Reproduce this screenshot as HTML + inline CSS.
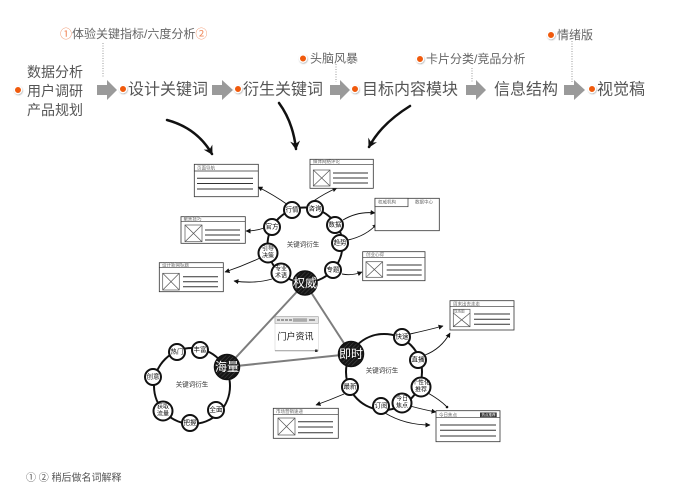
<!DOCTYPE html>
<html><head><meta charset="utf-8"><style>
html,body{margin:0;padding:0;background:#fff;}
svg{display:block;}
text{font-family:"Liberation Sans","Noto Sans CJK SC",sans-serif;}
</style></head><body>
<svg width="680" height="500" viewBox="0 0 680 500" xmlns="http://www.w3.org/2000/svg">
<defs>
<pattern id="hatch" width="3" height="3" patternUnits="userSpaceOnUse" patternTransform="rotate(45)">
<rect width="3" height="3" fill="#161616"/><line x1="0" y1="0" x2="0" y2="3" stroke="#4a4a4a" stroke-width="1"/>
</pattern>
<marker id="big" markerUnits="userSpaceOnUse" markerWidth="12" markerHeight="12" refX="8" refY="5" orient="auto">
<path d="M0,0 L9,5 L0,10 L3,5 z" fill="#111"/>
</marker>
<marker id="sm" markerUnits="userSpaceOnUse" markerWidth="6" markerHeight="6" refX="4.5" refY="2.5" orient="auto">
<path d="M0,0 L5,2.5 L0,5 z" fill="#111"/>
</marker>
<filter id="glow" x="-1" y="-1" width="3" height="3"><feDropShadow dx="0.5" dy="0.8" stdDeviation="0.8" flood-color="#000" flood-opacity="0.35"/></filter>
</defs>
<rect width="680" height="500" fill="#fff"/>

<!-- ===== TOP ROW ===== -->
<g fill="#555" dominant-baseline="central">
<text x="27" y="72" font-size="14">数据分析</text>
<text x="27" y="91" font-size="14">用户调研</text>
<text x="27" y="110" font-size="14">产品规划</text>
<text x="128" y="90" font-size="16">设计关键词</text>
<text x="243" y="90" font-size="16">衍生关键词</text>
<text x="362" y="90" font-size="16">目标内容模块</text>
<text x="494" y="90" font-size="16">信息结构</text>
<text x="597" y="90" font-size="16">视觉稿</text>
</g>
<g fill="#666" font-size="12" dominant-baseline="central">
<text x="60" y="34"><tspan fill="#f0885a">①</tspan>体验关键指标/六度分析<tspan fill="#f0885a">②</tspan></text>
<text x="310" y="58.5">头脑风暴</text>
<text x="426" y="59">卡片分类/竞品分析</text>
<text x="557" y="35">情绪版</text>
</g>
<!-- dotted lines -->
<g stroke="#999" stroke-width="1" stroke-dasharray="1,1.5">
<line x1="103" y1="43" x2="103" y2="78"/>
<line x1="336" y1="64" x2="336" y2="82"/>
<line x1="472" y1="68" x2="472" y2="82"/>
<line x1="572" y1="41" x2="572" y2="82"/>
</g>
<!-- block arrows -->
<g fill="#9a9a9a">
<path d="M97,85 H107 V80 L117,90 L107,100 V95 H97 Z"/>
<path d="M212,85 H222 V80 L233,90 L222,100 V95 H212 Z"/>
<path d="M330,85 H340 V80 L350,90 L340,100 V95 H330 Z"/>
<path d="M466,85 H476 V80 L486,90 L476,100 V95 H466 Z"/>
<path d="M564,85 H574 V80 L585,90 L574,100 V95 H564 Z"/>
</g>
<!-- orange dots -->
<g fill="#f05a0a" stroke="#fff" stroke-width="1.2" filter="url(#glow)">
<circle cx="18" cy="90" r="3.6"/>
<circle cx="123" cy="89" r="3.6"/>
<circle cx="238" cy="89" r="3.6"/>
<circle cx="355" cy="89" r="3.6"/>
<circle cx="592" cy="89" r="3.6"/>
<circle cx="303" cy="58.5" r="3.6"/>
<circle cx="420" cy="59" r="3.6"/>
<circle cx="551" cy="35" r="3.6"/>
</g>

<!-- big curved arrows -->
<g fill="none" stroke="#111" stroke-width="2.5" stroke-linecap="round">
<path d="M167,120 Q197,128 212,154" marker-end="url(#big)"/>
<path d="M279,103 Q293,122 296,149" marker-end="url(#big)"/>
<path d="M410,106 Q381,124 369,147" marker-end="url(#big)"/>
</g>

<!-- gray connector lines between hubs -->
<g stroke="#7d7d7d" stroke-width="2">
<line x1="305" y1="283" x2="227" y2="367"/>
<line x1="305" y1="283" x2="351" y2="354"/>
<line x1="227" y1="367" x2="351" y2="354"/>
</g>

<!-- rings -->
<g fill="none" stroke="#111" stroke-width="2">
<circle cx="305" cy="245" r="37.5"/>
<circle cx="192" cy="386" r="38"/>
<circle cx="384" cy="372" r="38"/>
</g>

<!-- thin arrows -->
<g fill="none" stroke="#111" stroke-width="0.9">
<path d="M288,205 Q274,195 258,187" marker-end="url(#sm)"/>
<path d="M264,228 Q256,231 246,231" marker-end="url(#sm)"/>
<path d="M260,258 Q243,266 225,272" marker-end="url(#sm)"/>
<path d="M272,279 Q255,284 234,281" marker-end="url(#sm)"/>
<path d="M312,202 Q325,193 337,188" marker-end="url(#sm)"/>
<path d="M343,220 Q358,211 375,213" marker-end="url(#sm)"/>
<path d="M348,240 Q366,236 377,224" marker-end="url(#sm)"/>
<path d="M342,274 Q352,276 362,272" marker-end="url(#sm)"/>
<path d="M344,394 Q330,400 316,405" marker-end="url(#sm)"/>
<path d="M410,334 Q428,330 443,326" marker-end="url(#sm)"/>
<path d="M425,355 Q441,349 450,333" marker-end="url(#sm)"/>
<path d="M428,393 Q440,400 446,406"/>
<path d="M410,406 Q425,410 436,412" marker-end="url(#sm)"/>
<path d="M385,413 Q405,425 430,425" marker-end="url(#sm)"/>
</g>
<circle cx="447" cy="407" r="1.3" fill="#111"/>

<!-- ===== BOXES ===== -->
<g font-size="4.5" fill="#666">
<!-- box1 -->
<rect x="194.3" y="164.3" width="64" height="32.4" fill="#fff" stroke="#333" stroke-width="0.8"/>
<line x1="194.3" y1="171" x2="258.3" y2="171" stroke="#333" stroke-width="0.7"/>
<text x="197" y="169.5">页面导航</text>
<g stroke="#333" stroke-width="1"><line x1="197" y1="178.3" x2="253" y2="178.3"/><line x1="197" y1="183.5" x2="253" y2="183.5"/><line x1="197" y1="189" x2="253" y2="189"/></g>

<!-- box2 -->
<rect x="181" y="216.7" width="64.3" height="26.6" fill="#fff" stroke="#333" stroke-width="0.8"/>
<line x1="181" y1="221.7" x2="245.3" y2="221.7" stroke="#333" stroke-width="0.7"/>
<text x="183.5" y="220.5">聚焦技巧</text>
<g stroke="#555" stroke-width="0.7" fill="none"><rect x="185" y="225" width="17" height="16.7"/><line x1="185" y1="225" x2="202" y2="241.7"/><line x1="202" y1="225" x2="185" y2="241.7"/></g>
<g stroke="#333" stroke-width="1"><line x1="205" y1="230" x2="240" y2="230"/><line x1="205" y1="235" x2="240" y2="235"/><line x1="205" y1="240" x2="240" y2="240"/></g>

<!-- box3 -->
<rect x="159.3" y="262.7" width="64" height="29" fill="#fff" stroke="#333" stroke-width="0.8"/>
<line x1="159.3" y1="267.7" x2="223.3" y2="267.7" stroke="#333" stroke-width="0.7"/>
<text x="162" y="266.5">设计新闻标题</text>
<g stroke="#555" stroke-width="0.7" fill="none"><rect x="162.7" y="273.3" width="16.6" height="16.7"/><line x1="162.7" y1="273.3" x2="179.3" y2="290"/><line x1="179.3" y1="273.3" x2="162.7" y2="290"/></g>
<g stroke="#333" stroke-width="1"><line x1="183" y1="276.7" x2="218" y2="276.7"/><line x1="183" y1="281.7" x2="218" y2="281.7"/><line x1="183" y1="286.7" x2="218" y2="286.7"/></g>

<!-- box4 -->
<rect x="310" y="159.3" width="63.3" height="29" fill="#fff" stroke="#333" stroke-width="0.8"/>
<line x1="310" y1="164.3" x2="373.3" y2="164.3" stroke="#333" stroke-width="0.7"/>
<text x="313" y="163">媒体网络评论</text>
<g stroke="#555" stroke-width="0.7" fill="none"><rect x="313.3" y="170" width="16.7" height="16"/><line x1="313.3" y1="170" x2="330" y2="186"/><line x1="330" y1="170" x2="313.3" y2="186"/></g>
<g stroke="#333" stroke-width="1"><line x1="333" y1="173" x2="368" y2="173"/><line x1="333" y1="178" x2="368" y2="178"/><line x1="333" y1="183" x2="368" y2="183"/></g>

<!-- box5 -->
<rect x="375" y="198.3" width="64.3" height="32.4" fill="#fff" stroke="#333" stroke-width="0.8"/>
<rect x="375" y="198.3" width="33" height="8.4" fill="#fff" stroke="#333" stroke-width="0.7"/>
<text x="378" y="203.5">权威机构</text>
<text x="415" y="203.5">数据中心</text>

<!-- box6 -->
<rect x="362.7" y="251.7" width="62.3" height="29" fill="#fff" stroke="#333" stroke-width="0.8"/>
<line x1="362.7" y1="257.3" x2="425" y2="257.3" stroke="#333" stroke-width="0.7"/>
<text x="366" y="256">创业心得</text>
<g stroke="#555" stroke-width="0.7" fill="none"><rect x="366" y="261.7" width="16.7" height="15.6"/><line x1="366" y1="261.7" x2="382.7" y2="277.3"/><line x1="382.7" y1="261.7" x2="366" y2="277.3"/></g>
<g stroke="#333" stroke-width="1"><line x1="386.7" y1="265" x2="421.7" y2="265"/><line x1="386.7" y1="270" x2="421.7" y2="270"/><line x1="386.7" y1="275" x2="421.7" y2="275"/></g>

<!-- 门户资讯 -->
<rect x="275" y="316.7" width="43.3" height="34" fill="#fff" stroke="#ccc" stroke-width="0.5"/>
<rect x="275" y="316.7" width="43.3" height="6.6" fill="#e6e6e6" stroke="#999" stroke-width="0.6"/>
<g fill="#999"><rect x="277" y="319" width="3" height="2"/><rect x="281" y="319" width="3" height="2"/><rect x="285" y="319" width="3" height="2"/><rect x="289" y="319" width="3" height="2"/><rect x="293" y="318.3" width="14" height="3.5" fill="#aaa"/><rect x="309" y="319" width="6" height="2"/></g>
<text x="277.5" y="339.5" font-size="9" fill="#1a1a1a">门户资讯</text>
<line x1="275" y1="350.7" x2="318.3" y2="350.7" stroke="#999" stroke-width="1"/>
<rect x="315" y="349.5" width="2.5" height="2.5" fill="#333"/>

<!-- box8 -->
<rect x="273.3" y="408.3" width="65" height="30" fill="#fff" stroke="#333" stroke-width="0.8"/>
<line x1="273.3" y1="414.3" x2="338.3" y2="414.3" stroke="#333" stroke-width="0.7"/>
<text x="276" y="413">市场营销速递</text>
<g stroke="#555" stroke-width="0.7" fill="none"><rect x="278" y="418" width="17" height="17"/><line x1="278" y1="418" x2="295" y2="435"/><line x1="295" y1="418" x2="278" y2="435"/></g>
<g stroke="#333" stroke-width="1"><line x1="298" y1="421.7" x2="333" y2="421.7"/><line x1="298" y1="427" x2="333" y2="427"/><line x1="298" y1="432.7" x2="333" y2="432.7"/></g>

<!-- box9 -->
<rect x="450" y="300.7" width="64" height="29.3" fill="#fff" stroke="#333" stroke-width="0.8"/>
<line x1="450" y1="306.7" x2="514" y2="306.7" stroke="#333" stroke-width="0.7"/>
<text x="453" y="305.3">周末出去走走</text>
<g stroke="#555" stroke-width="0.7" fill="none"><rect x="453.3" y="309.3" width="16.7" height="17.4"/><line x1="453.3" y1="313" x2="470" y2="326.7"/><line x1="470" y1="313" x2="453.3" y2="326.7"/></g>
<text x="454" y="312.3" font-size="3.5">现场图</text>
<g stroke="#333" stroke-width="1"><line x1="474" y1="314" x2="510" y2="314"/><line x1="474" y1="319.3" x2="510" y2="319.3"/><line x1="474" y1="324.3" x2="510" y2="324.3"/></g>

<!-- box10 -->
<rect x="436" y="410.7" width="64" height="31" fill="#fff" stroke="#333" stroke-width="0.8"/>
<line x1="436" y1="417.7" x2="500" y2="417.7" stroke="#333" stroke-width="0.7"/>
<text x="439" y="416.3">今日焦点</text>
<rect x="480" y="412.5" width="16.7" height="4.6" fill="#333"/>
<text x="481.5" y="416.2" font-size="3.5" fill="#fff">热点推荐</text>
<g stroke="#333" stroke-width="1"><line x1="440" y1="425" x2="496" y2="425"/><line x1="440" y1="430.3" x2="496" y2="430.3"/><line x1="440" y1="436" x2="496" y2="436"/></g>
</g>

<!-- ring labels -->
<g font-size="6.5" fill="#333" text-anchor="middle" dominant-baseline="central">
<text x="303" y="245">关键词衍生</text>
<text x="192" y="385">关键词衍生</text>
<text x="382" y="371">关键词衍生</text>
</g>

<!-- small nodes -->
<g fill="#fff" stroke="#111" stroke-width="2">
<circle cx="292" cy="210" r="8"/><circle cx="315" cy="209" r="8"/><circle cx="335" cy="225" r="8"/><circle cx="340" cy="243" r="8"/><circle cx="333" cy="270" r="8"/><circle cx="281" cy="273" r="9.5"/><circle cx="268" cy="253" r="9.5"/><circle cx="272" cy="227" r="8"/>
<circle cx="177" cy="352" r="8"/><circle cx="200" cy="350" r="8"/><circle cx="216" cy="410" r="8"/><circle cx="190" cy="423" r="8"/><circle cx="163" cy="411" r="9.5"/><circle cx="153" cy="377" r="8"/>
<circle cx="402" cy="337" r="8"/><circle cx="418" cy="360" r="8"/><circle cx="421" cy="387" r="9.5"/><circle cx="402" cy="403" r="9.5"/><circle cx="381" cy="406" r="8"/><circle cx="350" cy="387" r="8"/>
</g>
<g font-size="6.5" fill="#111" text-anchor="middle" dominant-baseline="central">
<text x="292" y="210">行情</text><text x="315" y="209">咨询</text><text x="335" y="225">数据</text><text x="340" y="243">趋势</text><text x="333" y="270">专题</text><text x="272" y="227">官方</text>
<text x="281" y="269.5" font-size="6">专业</text><text x="281" y="276.5" font-size="6">术语</text>
<text x="268" y="249.5" font-size="6">引导</text><text x="268" y="256.5" font-size="6">决策</text>
<text x="177" y="352">热门</text><text x="200" y="350">丰富</text><text x="216" y="410">全面</text><text x="190" y="423">把握</text><text x="153" y="377">创意</text>
<text x="163" y="407.5" font-size="6">获取</text><text x="163" y="414.5" font-size="6">流量</text>
<text x="402" y="337">快速</text><text x="418" y="360">直播</text><text x="381" y="406">订阅</text><text x="350" y="387">最新</text>
<text x="421" y="383.5" font-size="6">个性化</text><text x="421" y="390.5" font-size="6">推荐</text>
<text x="402" y="399.5" font-size="6">今日</text><text x="402" y="406.5" font-size="6">焦点</text>
</g>

<!-- hub nodes -->
<g fill="url(#hatch)" stroke="#111" stroke-width="1.5">
<circle cx="305" cy="283" r="12"/>
<circle cx="227" cy="367" r="12.5"/>
<circle cx="351" cy="354" r="12.5"/>
</g>
<g font-size="12" fill="#fff" text-anchor="middle" dominant-baseline="central">
<text x="305" y="283">权威</text>
<text x="227" y="367">海量</text>
<text x="351" y="354">即时</text>
</g>

<!-- footer -->
<text x="26" y="478.5" font-size="10" fill="#555" dominant-baseline="central">① ② 稍后做名词解释</text>
</svg>
</body></html>
